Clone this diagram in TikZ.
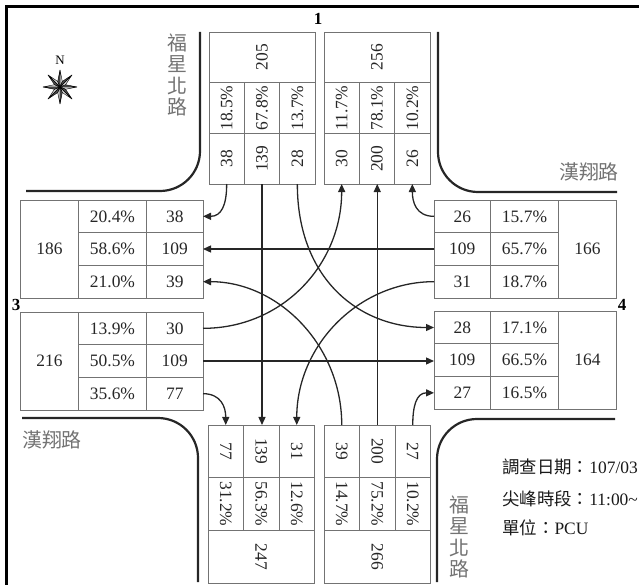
\documentclass[tikz,border=0pt]{standalone}
\usepackage{fontspec}
\setmainfont{Liberation Serif}
\newfontfamily\cjk{Noto Sans CJK TC}
\usetikzlibrary{calc,positioning,arrows.meta}
\tikzset {>={Triangle[length=8bp,width=7bp]}}
\tikzset{
  box/.style={draw=black!55, line width=0.8bp, inner sep=0pt, outer sep=0pt,
    text=black!85, font=\fontsize{17.5}{19}\selectfont},
  vcell/.style={box, minimum width=35.33bp, minimum height=50.67bp},
  vtot/.style={box, minimum width=106bp, minimum height=50.67bp},
  bcell/.style={box, minimum width=35.5bp, minimum height=52.67bp},
  btot/.style={box, minimum width=106.5bp, minimum height=52.67bp},
  hcell/.style={box, minimum width=56.5bp, minimum height=32.67bp},
  pcell/.style={box, minimum width=68bp, minimum height=32.67bp},
  htot/.style={box, minimum width=58bp, minimum height=98bp},
  flow/.style={->, line width=1.3bp, black!85},
  road/.style={line width=2.2bp, black!85, rounded corners=40bp},
  roadname/.style={text=black!55, font=\cjk\fontsize{20}{21.5}\selectfont, align=center, inner sep=0pt},
  info/.style={anchor=west, inner sep=0pt, text=black!90, font=\fontsize{17.5}{20}\selectfont},
  leg/.style={inner sep=0pt, font=\bfseries\fontsize{17}{20}\selectfont}
}
\newcommand{\vup}[1]{\rotatebox{90}{#1}}
\newcommand{\vdn}[1]{\rotatebox{-90}{#1}}

\begin{document}
\begin{tikzpicture}[x=1bp,y=-1bp]
\useasboundingbox (0,0) rectangle (639,585);
\draw[line width=3bp] (6.5,585) -- (6.5,6.5) -- (639,6.5);

% kerb lines
\draw[road] (200,32) -- (200,191) -- (26,191);
\draw[road] (438,32) -- (438,192) -- (617,192);
\draw[road] (22,418) -- (198,418) -- (198,582);
\draw[road] (615,419) -- (437,419) -- (437,582);

\node[roadname] (rdn) at (177,75) {福\\星\\北\\路};
\node[roadname] (rds) at (459,537) {福\\星\\北\\路};
\node[roadname] (rde) at (589,172) {漢翔路};
\node[roadname] (rdw) at (52,440) {漢翔路};

% compass
\coordinate (rose) at (60,87);
\node[inner sep=0pt, font=\fontsize{13}{15}\selectfont] (north) at (60,60) {N};
\foreach \a in {0,45,...,315}{
  \draw[line width=0.4bp,fill=black!15] (rose) -- ($(rose)+(\a:17)$) -- ($(rose)+(\a+22.5:6)$) -- cycle;
  \draw[line width=0.4bp,fill=black!70] (rose) -- ($(rose)+(\a:17)$) -- ($(rose)+(\a-22.5:6)$) -- cycle;
}

% leg 1 (north)
\node[vcell] (in1a) at (226.67,158.67) {\vup{38}};
\node[vcell,right=0pt of in1a] (in1b) {\vup{139}};
\node[vcell,right=0pt of in1b] (in1c) {\vup{28}};
\node[vcell,above=0pt of in1a] (pin1a) {\vup{18.5\%}};
\node[vcell,above=0pt of in1b] (pin1b) {\vup{67.8\%}};
\node[vcell,above=0pt of in1c] (pin1c) {\vup{13.7\%}};
\node[vtot,above=0pt of pin1b] (tin1) {\vup{205}};

\node[vcell] (out1a) at (341.67,158.67) {\vup{30}};
\node[vcell,right=0pt of out1a] (out1b) {\vup{200}};
\node[vcell,right=0pt of out1b] (out1c) {\vup{26}};
\node[vcell,above=0pt of out1a] (pout1a) {\vup{11.7\%}};
\node[vcell,above=0pt of out1b] (pout1b) {\vup{78.1\%}};
\node[vcell,above=0pt of out1c] (pout1c) {\vup{10.2\%}};
\node[vtot,above=0pt of pout1b] (tout1) {\vup{256}};
\node[leg] (leg1) at (318,19) {1};

% leg 2 (south)
\node[bcell] (out2a) at (225.75,451.33) {\vdn{77}};
\node[bcell,right=0pt of out2a] (out2b) {\vdn{139}};
\node[bcell,right=0pt of out2b] (out2c) {\vdn{31}};
\node[bcell,below=0pt of out2a] (pout2a) {\vdn{31.2\%}};
\node[bcell,below=0pt of out2b] (pout2b) {\vdn{56.3\%}};
\node[bcell,below=0pt of out2c] (pout2c) {\vdn{12.6\%}};
\node[btot,below=0pt of pout2b] (tout2) {\vdn{247}};

\node[bcell] (in2a) at (341.75,451.33) {\vdn{39}};
\node[bcell,right=0pt of in2a] (in2b) {\vdn{200}};
\node[bcell,right=0pt of in2b] (in2c) {\vdn{27}};
\node[bcell,below=0pt of in2a] (pin2a) {\vdn{14.7\%}};
\node[bcell,below=0pt of in2b] (pin2b) {\vdn{75.2\%}};
\node[bcell,below=0pt of in2c] (pin2c) {\vdn{10.2\%}};
\node[btot,below=0pt of pin2b] (tin2) {\vdn{266}};

% leg 3 (west)
\node[hcell] (out3a) at (174.75,216.33) {38};
\node[hcell,below=0pt of out3a] (out3b) {109};
\node[hcell,below=0pt of out3b] (out3c) {39};
\node[pcell,left=0pt of out3a] (pout3a) {20.4\%};
\node[pcell,left=0pt of out3b] (pout3b) {58.6\%};
\node[pcell,left=0pt of out3c] (pout3c) {21.0\%};
\node[htot,left=0pt of pout3b] (tout3) {186};

\node[hcell] (in3a) at (174.75,328.33) {30};
\node[hcell,below=0pt of in3a] (in3b) {109};
\node[hcell,below=0pt of in3b] (in3c) {77};
\node[pcell,left=0pt of in3a] (pin3a) {13.9\%};
\node[pcell,left=0pt of in3b] (pin3b) {50.5\%};
\node[pcell,left=0pt of in3c] (pin3c) {35.6\%};
\node[htot,left=0pt of pin3b] (tin3) {216};
\node[leg] (leg3) at (16,305) {3};

% leg 4 (east)
\node[hcell] (in4a) at (462.25,216.33) {26};
\node[hcell,below=0pt of in4a] (in4b) {109};
\node[hcell,below=0pt of in4b] (in4c) {31};
\node[pcell,right=0pt of in4a] (pin4a) {15.7\%};
\node[pcell,right=0pt of in4b] (pin4b) {65.7\%};
\node[pcell,right=0pt of in4c] (pin4c) {18.7\%};
\node[htot,right=0pt of pin4b] (tin4) {166};

\node[hcell] (out4a) at (462.25,327.5) {28};
\node[hcell,below=0pt of out4a] (out4b) {109};
\node[hcell,below=0pt of out4b] (out4c) {27};
\node[pcell,right=0pt of out4a] (pout4a) {17.1\%};
\node[pcell,right=0pt of out4b] (pout4b) {66.5\%};
\node[pcell,right=0pt of out4c] (pout4c) {16.5\%};
\node[htot,right=0pt of pout4b] (tout4) {164};
\node[leg] (leg4) at (622,305) {4};

% turning movements
\draw[flow] (in1a.south) .. controls +(0,22) and +(18,0) .. (out3a.east);
\draw[flow] (in1b.south) -- (in1b.south |- out2b.north);
\draw[flow] (in1c.south) .. controls +(0,95) and +(-75,0) .. (out4a.west);
\draw[flow] (in3a.east) .. controls +(80,0) and +(0,80) .. (out1a.south);
\draw[flow] (in3b.east) -- (in3b.east -| out4b.west);
\draw[flow] (in3c.east) .. controls +(18,0) and +(0,-18) .. (out2a.north);
\draw[flow] (in4a.west) .. controls +(-18,0) and +(0,18) .. (out1c.south);
\draw[flow] (in4b.west) -- (in4b.west -| out3b.east);
\draw[flow] (in4c.west) .. controls +(-75,0) and +(0,-80) .. (out2c.north);
\draw[flow] (in2a.north) .. controls +(0,-80) and +(75,0) .. (out3c.east);
\draw[flow] (in2b.north) -- (in2b.north |- out1b.south);
\draw[flow] (in2c.north) .. controls +(0,-18) and +(-18,0) .. (out4c.west);

% survey notes
\node[info] (date) at (502,467) {{\cjk 調查日期：}107/03};
\node[info] (peak) at (502,499) {{\cjk 尖峰時段：}11:00\textasciitilde};
\node[info] (unit) at (502,528) {{\cjk 單位：}PCU};
\end{tikzpicture}
\end{document}
